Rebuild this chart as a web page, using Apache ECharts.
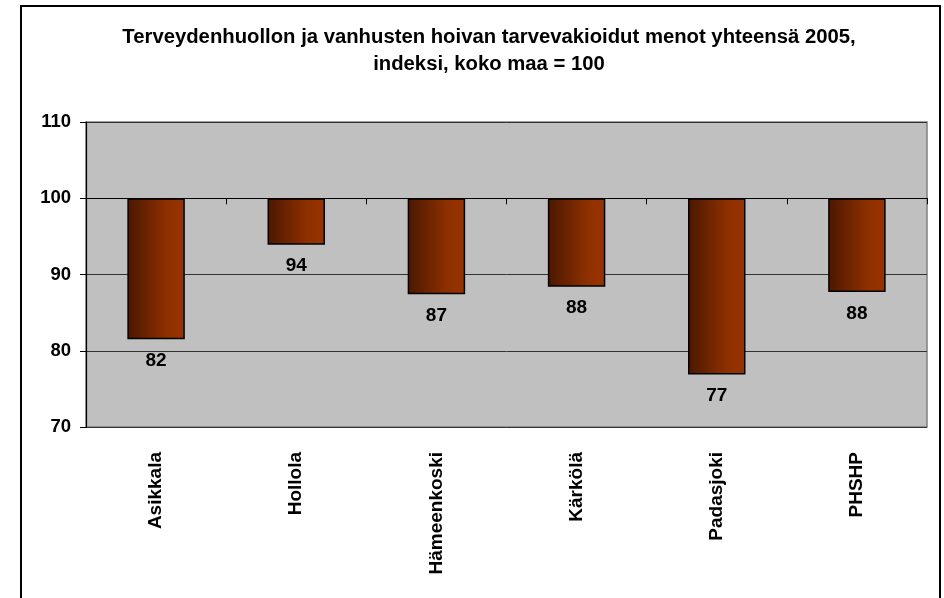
<!DOCTYPE html>
<html>
<head>
<meta charset="utf-8">
<script src="https://cdn.jsdelivr.net/npm/echarts/dist/echarts.min.js"></script>
<style>
html, body { margin: 0; padding: 0; background: #fff; }
#main { width: 944px; height: 598px; }
</style>
</head>
<body>
<div id="main"></div>
<script>
var categories = ['Asikkala', 'Hollola', 'Hämeenkoski', 'Kärkölä', 'Padasjoki', 'PHSHP'];
var values = [81.5, 93.9, 87.4, 88.4, 76.9, 87.7];
var baseLine = 100; // koko maa = 100
var yTicks = [70, 80, 90, 100, 110];

var FONT = 'Liberation Sans, Arial, sans-serif';

var chart = echarts.init(document.getElementById('main'));
chart.setOption({
	backgroundColor: '#fff',
	animation: false,
	graphic: [{
		type: 'rect',
		shape: { x: 21, y: 6, width: 919, height: 620 },
		style: { fill: 'none', stroke: '#000', lineWidth: 2 },
		z: 100
	}],
	title: {
		text: 'Terveydenhuollon ja vanhusten hoivan tarvevakioidut menot yhteensä 2005,\nindeksi, koko maa = 100',
		left: 484,
		textAlign: 'center',
		top: 19,
		textStyle: {
			fontFamily: FONT,
			fontSize: 20.3,
			fontWeight: 'bold',
			color: '#000',
			lineHeight: 27
		}
	},
	grid: {
		left: 86,
		right: 17,
		top: 122,
		bottom: 171,
		show: true,
		backgroundColor: '#c0c0c0',
		borderColor: '#808080',
		borderWidth: 1.5
	},
	xAxis: [{
		// axis line crossing at 100
		type: 'category',
		data: categories,
		position: 'top',
		axisLine: { onZero: true, lineStyle: { color: '#000', width: 1.2 } },
		axisTick: { show: true, inside: true, length: 6, lineStyle: { color: '#000' } },
		axisLabel: { show: false },
		splitLine: { show: false }
	}, {
		type: 'category',
		data: categories,
		position: 'bottom',
		axisLine: { show: false, onZero: false },
		axisTick: { show: false },
		axisLabel: {
			rotate: 90,
			margin: 25,
			color: '#000',
			fontFamily: FONT,
			fontSize: 19,
			fontWeight: 'bold'
		}
	}],
	yAxis: {
		type: 'value',
		min: yTicks[0] - baseLine,
		max: yTicks[yTicks.length - 1] - baseLine,
		interval: 10,
		axisLine: { show: true, lineStyle: { color: '#000', width: 1.2 } },
		axisTick: { show: true, length: 6, lineStyle: { color: '#000' } },
		axisLabel: {
			margin: 15,
			color: '#000',
			fontFamily: FONT,
			fontSize: 18.5,
			fontWeight: 'bold',
			formatter: function(v) { return v + baseLine; }
		},
		splitLine: { show: true, lineStyle: { color: '#333', width: 1 } }
	},
	series: [{
		type: 'bar',
		xAxisIndex: 1,
		barWidth: '41%',
		data: values.map(function(v) { return v - baseLine; }),
		itemStyle: {
			color: new echarts.graphic.LinearGradient(0, 0, 1, 0, [
				{ offset: 0, color: '#4a1800' },
				{ offset: 0.7, color: '#8f3000' },
				{ offset: 1, color: '#993300' }
			]),
			borderColor: '#000',
			borderWidth: 1.5
		},
		label: {
			show: true,
			position: 'bottom',
			distance: 12,
			color: '#000',
			fontFamily: FONT,
			fontSize: 19,
			fontWeight: 'bold',
			formatter: function(p) { return Math.round(values[p.dataIndex]); }
		}
	}]
});
</script>
</body>
</html>
